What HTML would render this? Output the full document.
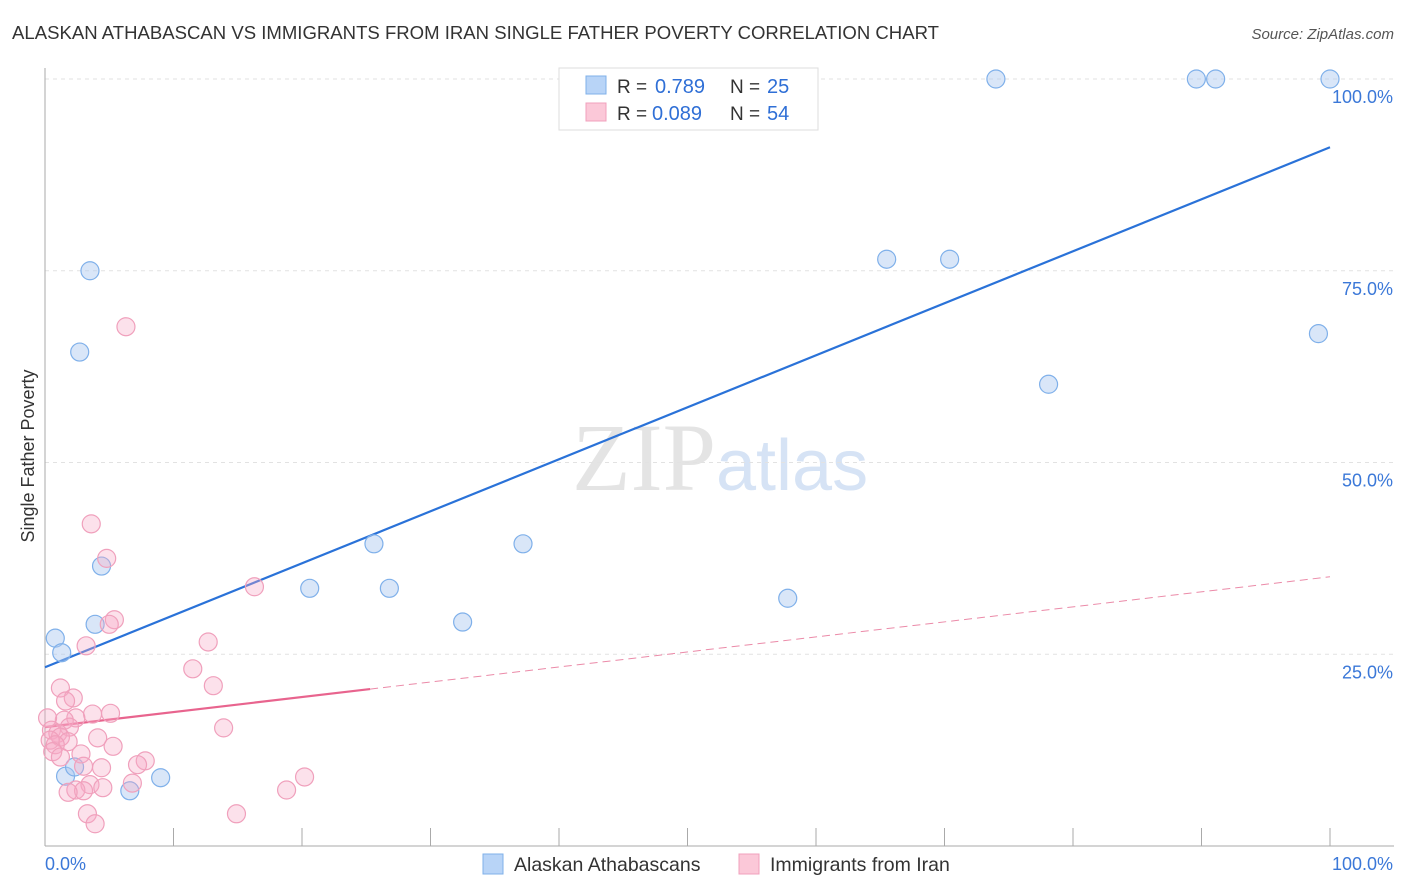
<!DOCTYPE html>
<html><head><meta charset="utf-8"><style>
body{margin:0;background:#fff;font-family:"Liberation Sans",sans-serif;}
svg{display:block}
</style></head><body>
<svg id="chart" width="1406" height="892">
<text x="12" y="39" font-size="18.5" fill="#333" textLength="927" lengthAdjust="spacingAndGlyphs">ALASKAN ATHABASCAN VS IMMIGRANTS FROM IRAN SINGLE FATHER POVERTY CORRELATION CHART</text>
<text x="1394" y="39" font-size="15" fill="#555" font-style="italic" text-anchor="end">Source: ZipAtlas.com</text>
<text x="34" y="456" font-size="18" fill="#333" transform="rotate(-90 34 456)" text-anchor="middle">Single Father Poverty</text>
<text x="716" y="490" font-size="96" fill="#e4e4e4" font-family="Liberation Serif,serif" text-anchor="end">ZIP</text>
<text x="716" y="490" font-size="72" fill="#d6e3f5">atlas</text>
<g id="grid"></g><g id="axes"></g><g id="lines"></g><g id="pts"></g>
<g>
<rect x="559" y="68" width="259" height="62" fill="#fff" stroke="#ddd"/>
<rect x="586" y="76" width="20" height="18" fill="#b8d4f7" stroke="#7fb0ea"/>
<rect x="586" y="103" width="20" height="18" fill="#fbc8d8" stroke="#f0a0bc"/>
<text x="617" y="93" font-size="19" fill="#333">R =</text>
<text x="655" y="93" font-size="20" fill="#2f6fd6">0.789</text>
<text x="730" y="93" font-size="19" fill="#333">N =</text>
<text x="767" y="93" font-size="20" fill="#2f6fd6">25</text>
<text x="617" y="120" font-size="19" fill="#333">R =</text>
<text x="652" y="120" font-size="20" fill="#2f6fd6">0.089</text>
<text x="730" y="120" font-size="19" fill="#333">N =</text>
<text x="767" y="120" font-size="20" fill="#2f6fd6">54</text>
</g>
<g>
<rect x="483" y="854" width="20" height="20" fill="#b8d4f7" stroke="#7fb0ea"/>
<text x="514" y="871" font-size="19.5" fill="#333">Alaskan Athabascans</text>
<rect x="739" y="854" width="20" height="20" fill="#fbc8d8" stroke="#f0a0bc"/>
<text x="770" y="871" font-size="19.5" fill="#333">Immigrants from Iran</text>
</g>
</svg>
<script>
const yTicks=[25,50,75,100];
const yTickLabels=["25.0%","50.0%","75.0%","100.0%"];
const blueX=[0.8,1.3,3.5,2.7,4.4,3.9,1.6,2.3,6.6,9.0,20.6,25.6,26.8,32.5,37.2,57.8,65.5,70.4,74.0,78.1,89.6,91.1,99.1,100];
const blueY=[27.1,25.2,75.0,64.4,36.5,28.9,9.1,10.3,7.2,8.9,33.6,39.4,33.6,29.2,39.4,32.3,76.5,76.5,100,60.2,100,100,66.8,100];
const pinkX=[6.3,3.6,4.8,16.3,5.4,5.0,3.2,12.7,11.5,13.1,1.2,2.2,1.6,3.7,5.1,2.4,1.5,0.2,1.9,0.5,1.0,13.9,1.2,0.4,1.8,4.1,0.8,5.3,0.6,1.2,2.8,7.8,7.2,3.0,4.4,20.2,6.8,3.5,4.5,2.4,3.0,1.8,18.8,3.3,14.9,3.9];
const pinkY=[67.7,42.0,37.5,33.8,29.5,28.9,26.1,26.6,23.1,20.9,20.6,19.3,18.9,17.2,17.3,16.7,16.4,16.7,15.5,15.1,14.7,15.4,14.2,13.8,13.6,14.1,13.2,13.0,12.3,11.6,12.0,11.1,10.6,10.4,10.2,9.0,8.2,8.0,7.6,7.3,7.2,7.0,7.3,4.2,4.2,2.9];
const blueLine=[23.3,91.1];
const pinkLine=[15.5,35.1];
const pinkSolidEnd=25.3;
const X=v=>45+v*12.85, Y=v=>846-v*7.67;
const NS="http://www.w3.org/2000/svg";
function mk(t,a,p){const e=document.createElementNS(NS,t);for(const k in a)e.setAttribute(k,a[k]);document.getElementById(p).appendChild(e);return e;}
yTicks.forEach((t,i)=>{
 const g=mk('line',{x1:45,x2:1394,y1:Y(t),y2:Y(t),stroke:'#e2e2e2','stroke-dasharray':'4,4'},'grid');
 
 
 const l=mk('text',{x:1393,y:Y(t)+24,'font-size':18,fill:'#3b78d8','text-anchor':'end'},'axes');
 l.textContent=yTickLabels[i];
 
 
});
mk('line',{x1:45,x2:45,y1:68,y2:846,stroke:'#aaa'},'axes');
mk('line',{x1:45,x2:1394,y1:846,y2:846,stroke:'#aaa'},'axes');
for(let i=0;i<=10;i++){const t=mk('line',{x1:X(i*10),x2:X(i*10),y1:828,y2:846,stroke:'#aaa'},'axes');
 
 }
let a=mk('text',{x:45,y:870,'font-size':18,fill:'#3b78d8'},'axes');a.textContent='0.0%';


a=mk('text',{x:1393,y:870,'font-size':18,fill:'#3b78d8','text-anchor':'end'},'axes');a.textContent='100.0%';


blueX.forEach((x,i)=>{const c=mk('circle',{cx:X(x),cy:Y(blueY[i]),r:9,fill:'rgba(170,200,240,0.45)',stroke:'#7fb0ea','stroke-width':1.2},'pts');
 
 });
pinkX.forEach((x,i)=>{const c=mk('circle',{cx:X(x),cy:Y(pinkY[i]),r:9,fill:'rgba(245,170,198,0.35)',stroke:'#f0a0bc','stroke-width':1.2},'pts');
 
 });
let ln=mk('line',{x1:X(0),y1:Y(blueLine[0]),x2:X(100),y2:Y(blueLine[1]),stroke:'#2a72d8','stroke-width':2.2},'lines');


const py=v=>pinkLine[0]+(pinkLine[1]-pinkLine[0])*v/100;
ln=mk('line',{x1:X(0),y1:Y(pinkLine[0]),x2:X(pinkSolidEnd),y2:Y(py(pinkSolidEnd)),stroke:'#e8648e','stroke-width':2.2},'lines');


ln=mk('line',{x1:X(pinkSolidEnd),y1:Y(py(pinkSolidEnd)),x2:X(100),y2:Y(pinkLine[1]),stroke:'#eb8aa8','stroke-width':1,'stroke-dasharray':'8,5'},'lines');


</script>
</body></html>
